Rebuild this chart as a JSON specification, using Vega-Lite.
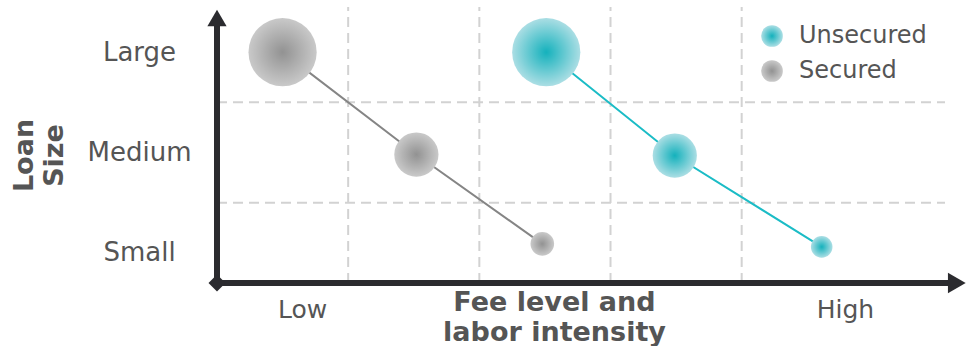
{
  "$schema": "https://vega.github.io/schema/vega-lite/v6.json",
  "width": 728,
  "height": 276,
  "autosize": {"type": "none"},
  "padding": {"left": 217, "top": 7, "right": 26, "bottom": 63},
  "background": "white",
  "config": {
    "view": {"stroke": null},
    "font": "DejaVu Sans",
    "axis": {"domain": false, "ticks": false, "grid": false, "labelColor": "#555555", "titleColor": "#555555", "labelFont": "DejaVu Sans", "titleFont": "DejaVu Sans"}
  },
  "datasets": {
    "loans": [
      {"type": "Secured", "fee": 0.5, "loan": 3, "volume": 100},
      {"type": "Secured", "fee": 1.52, "loan": 1.98, "volume": 42},
      {"type": "Secured", "fee": 2.48, "loan": 1.09, "volume": 12},
      {"type": "Unsecured", "fee": 2.51, "loan": 3, "volume": 100},
      {"type": "Unsecured", "fee": 3.49, "loan": 1.97, "volume": 42},
      {"type": "Unsecured", "fee": 4.61, "loan": 1.06, "volume": 10}
    ],
    "bands": [
      {"fee": 1, "loan": 0.7, "fee2": 1, "loan2": 3.45},
      {"fee": 2, "loan": 0.7, "fee2": 2, "loan2": 3.45},
      {"fee": 3, "loan": 0.7, "fee2": 3, "loan2": 3.45},
      {"fee": 4, "loan": 0.7, "fee2": 4, "loan2": 3.45},
      {"fee": 0, "loan": 1.5, "fee2": 5.55, "loan2": 1.5},
      {"fee": 0, "loan": 2.5, "fee2": 5.55, "loan2": 2.5}
    ],
    "axisLines": [
      {"fee": 0, "loan": 0.7, "fee2": 0, "loan2": 3.3},
      {"fee": 0, "loan": 0.7, "fee2": 5.58, "loan2": 0.7}
    ],
    "arrowUp": [{"fee": 0, "loan": 3.34}],
    "arrowRight": [{"fee": 5.64, "loan": 0.7}],
    "origin": [{"fee": 0, "loan": 0.7}]
  },
  "encoding": {
    "x": {
      "field": "fee", "type": "quantitative",
      "scale": {"domain": [0, 5.55], "nice": false, "zero": false},
      "axis": {
        "values": [0.648, 4.787],
        "labelExpr": "datum.value < 2 ? 'Low' : 'High'",
        "labelPadding": 14, "labelFontSize": 25,
        "labelFlush": false, "labelOverlap": false,
        "title": ["Fee level and", "labor intensity"],
        "titleFontSize": 27, "titleFontWeight": "bold",
        "titleX": 337, "titleY": 27, "titleBaseline": "alphabetic", "titleAlign": "center", "titleLineHeight": 30
      }
    },
    "y": {
      "field": "loan", "type": "quantitative",
      "scale": {"domain": [0.7, 3.45], "nice": false, "zero": false},
      "axis": {
        "values": [1, 2, 3],
        "labelExpr": "datum.value == 3 ? 'Large' : datum.value == 2 ? 'Medium' : 'Small'",
        "labelAlign": "center", "labelBaseline": "middle", "labelPadding": 78,
        "labelFontSize": 26,
        "labelFlush": false, "labelOverlap": false,
        "title": ["Loan", "Size"],
        "titleFontSize": 27, "titleFontWeight": "bold",
        "titleAngle": 270, "titleX": -185, "titleY": 148, "titleBaseline": "alphabetic", "titleAlign": "center", "titleLineHeight": 30
      }
    }
  },
  "layer": [
    {
      "data": {"name": "bands"},
      "mark": {"type": "rule", "stroke": "#d2d2d2", "strokeWidth": 2, "strokeDash": [10, 6]},
      "encoding": {"x2": {"field": "fee2"}, "y2": {"field": "loan2"}}
    },
    {
      "data": {"name": "axisLines"},
      "mark": {"type": "rule", "stroke": "#2b2b2f", "strokeWidth": 6},
      "encoding": {"x2": {"field": "fee2"}, "y2": {"field": "loan2"}}
    },
    {
      "data": {"name": "arrowUp"},
      "mark": {"type": "point", "shape": "triangle-up", "filled": true, "fill": "#2b2b2f", "opacity": 1, "size": 370, "strokeWidth": 0}
    },
    {
      "data": {"name": "arrowRight"},
      "mark": {"type": "point", "shape": "triangle-right", "filled": true, "fill": "#2b2b2f", "opacity": 1, "size": 420, "strokeWidth": 0}
    },
    {
      "data": {"name": "origin"},
      "mark": {"type": "point", "shape": "diamond", "filled": true, "fill": "#2b2b2f", "opacity": 1, "size": 289, "strokeWidth": 0}
    },
    {
      "data": {"name": "loans"},
      "transform": [{"filter": "datum.type == 'Secured'"}],
      "mark": {"type": "line", "strokeWidth": 2, "stroke": "#858585"}
    },
    {
      "data": {"name": "loans"},
      "transform": [{"filter": "datum.type == 'Unsecured'"}],
      "mark": {"type": "line", "strokeWidth": 2, "stroke": "#1bbcc6"}
    },
    {
      "data": {"name": "loans"},
      "mark": {"type": "circle", "opacity": 1, "strokeWidth": 0},
      "encoding": {
        "fill": {
          "field": "type", "type": "nominal",
          "scale": {
            "domain": ["Unsecured", "Secured"],
            "range": [
              {"expr": "{gradient: 'radial', x1: 0.5, y1: 0.5, r1: 0, x2: 0.5, y2: 0.5, r2: 0.5, stops: [{offset: 0, color: '#14b1bc'}, {offset: 1, color: '#abdee4'}]}"},
              {"expr": "{gradient: 'radial', x1: 0.5, y1: 0.5, r1: 0, x2: 0.5, y2: 0.5, r2: 0.5, stops: [{offset: 0, color: '#929292'}, {offset: 1, color: '#c9c9c9'}]}"}
            ]
          },
          "legend": {
            "orient": "none", "legendX": 543, "legendY": 17, "title": null,
            "symbolType": "circle", "symbolSize": 470, "symbolStrokeWidth": 0, "symbolOpacity": 1,
            "labelFontSize": 24, "labelColor": "#555555", "labelFont": "DejaVu Sans",
            "labelOffset": 15, "rowPadding": 11
          }
        },
        "size": {
          "field": "volume", "type": "quantitative",
          "scale": {"domain": [0, 100], "range": [0, 4650]},
          "legend": null
        }
      }
    }
  ]
}
